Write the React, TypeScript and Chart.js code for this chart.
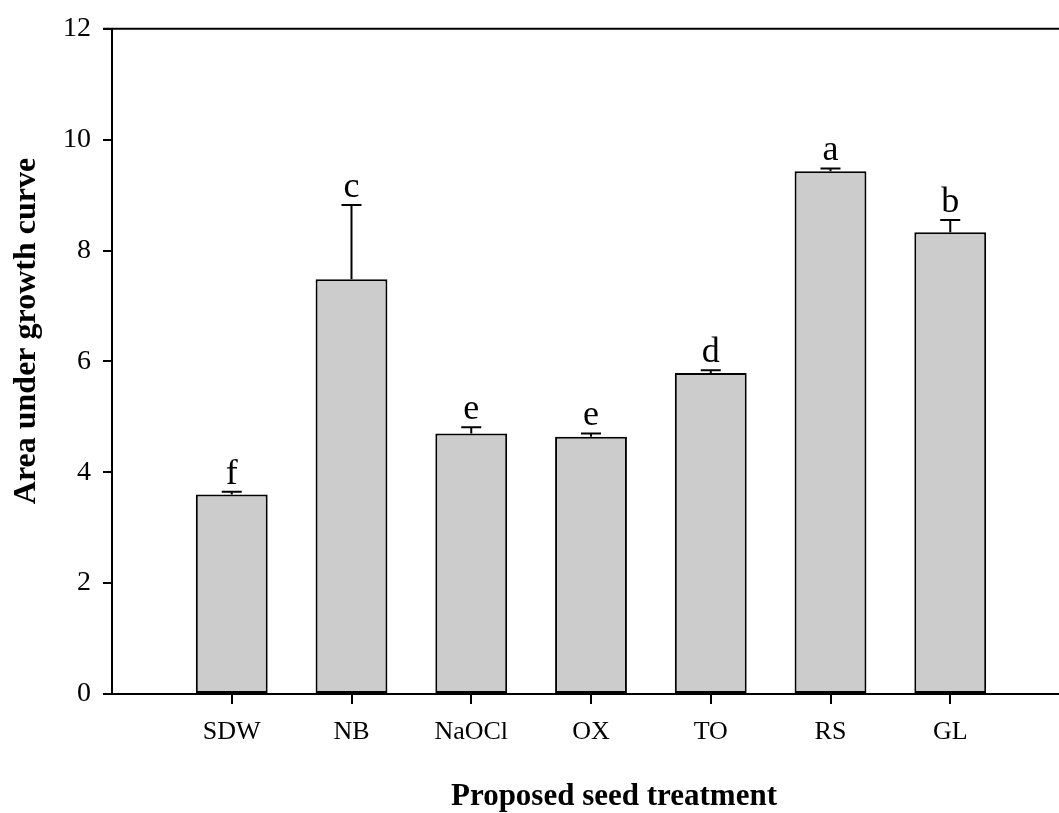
import React, { useEffect, useRef } from "react";
import { Chart, registerables } from "chart.js";

Chart.register(...registerables);

const categories = ["SDW", "NB", "NaOCl", "OX", "TO", "RS", "GL"];
const values = [3.6, 7.48, 4.7, 4.64, 5.79, 9.43, 8.33];
const errors = [0.05, 1.34, 0.11, 0.06, 0.05, 0.05, 0.22];
const letters = ["f", "c", "e", "e", "d", "a", "b"];
const yTicks = [0, 2, 4, 6, 8, 10, 12];

const FONT = "'Liberation Serif', 'Times New Roman', serif";
const CANVAS_W = 1100;
const CANVAS_H = 813;

export default function App() {
  const ref = useRef<HTMLCanvasElement | null>(null);

  useEffect(() => {
    if (!ref.current) return;
    const labels = ["", ...categories, ""];
    const data = [null, ...values, null];

    const overlay = {
      id: "overlay",
      afterDatasetsDraw(chart: any) {
        const ctx = chart.ctx;
        const y = chart.scales.y;
        const meta = chart.getDatasetMeta(0);
        ctx.save();
        ctx.strokeStyle = "#000";
        ctx.lineWidth = 2;
        meta.data.forEach((bar: any, i: number) => {
          const k = i - 1;
          if (k < 0 || k >= values.length) return;
          const top = y.getPixelForValue(values[k]);
          const cap = y.getPixelForValue(values[k] + errors[k]);
          ctx.beginPath();
          ctx.moveTo(bar.x, top);
          ctx.lineTo(bar.x, cap);
          ctx.moveTo(bar.x - 10, cap);
          ctx.lineTo(bar.x + 10, cap);
          ctx.stroke();
          ctx.fillStyle = "#000";
          ctx.font = `36px ${FONT}`;
          ctx.textAlign = "center";
          ctx.textBaseline = "alphabetic";
          ctx.fillText(letters[k], bar.x, cap - 8);
        });
        ctx.restore();
      },
      afterDraw(chart: any) {
        const ctx = chart.ctx;
        const a = chart.chartArea;
        ctx.save();
        ctx.strokeStyle = "#000";
        ctx.lineWidth = 2;
        ctx.beginPath();
        ctx.moveTo(a.left - 9, a.top);
        ctx.lineTo(a.right, a.top);
        ctx.stroke();
        ctx.fillStyle = "#000";
        ctx.font = `bold 31px ${FONT}`;
        ctx.textAlign = "center";
        ctx.textBaseline = "alphabetic";
        ctx.fillText("Proposed seed treatment", 614, 805);
        ctx.font = `bold 32px ${FONT}`;
        ctx.translate(35, 331);
        ctx.rotate(-Math.PI / 2);
        ctx.fillText("Area under growth curve", 0, 0);
        ctx.restore();
      },
    };

    const chart = new Chart(ref.current, {
      type: "bar",
      data: {
        labels,
        datasets: [
          {
            data,
            backgroundColor: "#cccccc",
            borderColor: "#000000",
            borderWidth: 2,
            borderSkipped: false,
            barPercentage: 0.6,
            categoryPercentage: 1,
          },
        ],
      },
      options: {
        responsive: false,
        animation: false,
        devicePixelRatio: 1,
        layout: { padding: { top: 23, left: 0, right: CANVAS_W - 1070, bottom: 0 } },
        plugins: { legend: { display: false }, tooltip: { enabled: false } },
        scales: {
          x: {
            type: "category",
            offset: false,
            afterFit(scale: any) {
              scale.height = CANVAS_H - 694;
            },
            grid: {
              display: true,
              offset: false,
              drawOnChartArea: false,
              drawTicks: true,
              tickLength: 10,
              lineWidth: 2,
              color: (c: any) =>
                c.index === 0 || c.index === labels.length - 1 ? "rgba(0,0,0,0)" : "#000",
            },
            border: { display: true, color: "#000", width: 2 },
            ticks: {
              color: "#000",
              font: { family: FONT, size: 26 },
              padding: 13,
              maxRotation: 0,
              autoSkip: false,
            },
          },
          y: {
            min: 0,
            max: 12,
            afterFit(scale: any) {
              scale.width = 112;
            },
            afterBuildTicks(scale: any) {
              scale.ticks = yTicks.map((v) => ({ value: v }));
            },
            grid: {
              display: true,
              drawOnChartArea: false,
              drawTicks: true,
              tickLength: 9,
              lineWidth: 2,
              color: "#000",
            },
            border: { display: true, color: "#000", width: 2 },
            ticks: {
              color: "#000",
              font: { family: FONT, size: 28 },
              padding: 12,
            },
          },
        },
      },
      plugins: [overlay],
    });
    return () => chart.destroy();
  }, []);

  return (
    <div
      style={{
        position: "fixed",
        left: 0,
        top: 0,
        width: 1059,
        height: 813,
        overflow: "hidden",
        background: "#fff",
      }}
    >
      <canvas ref={ref} width={CANVAS_W} height={CANVAS_H} style={{ display: "block" }} />
    </div>
  );
}
